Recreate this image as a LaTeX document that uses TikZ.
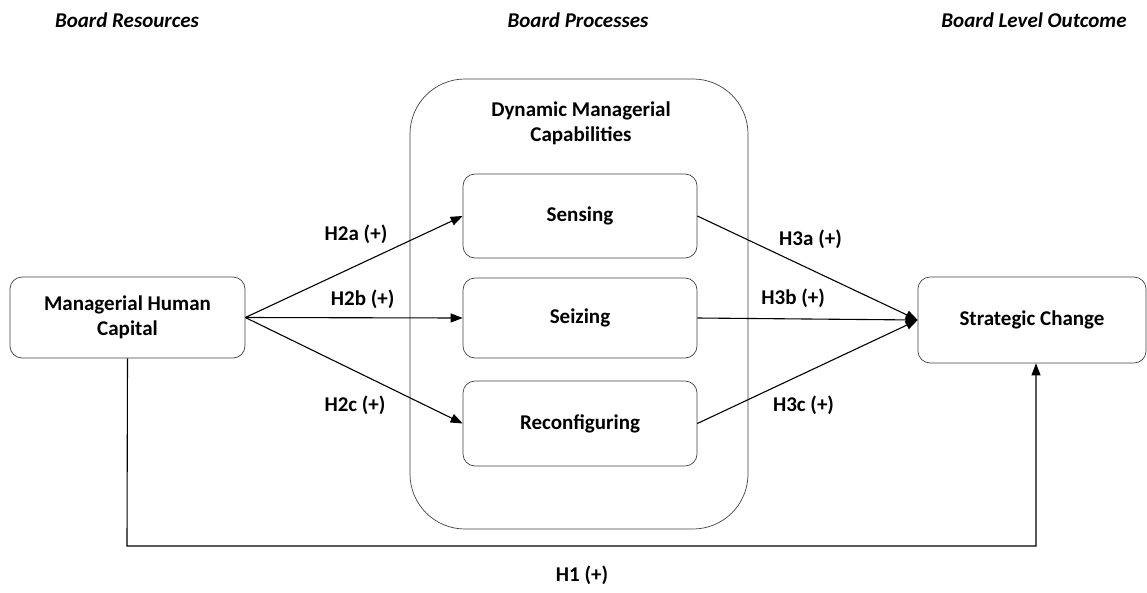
\documentclass[tikz,border=0pt]{standalone}
\usepackage{fontspec}
\setmainfont{Carlito}
\usepackage{tikz}
\usetikzlibrary{positioning, arrows.meta}

\begin{document}
\begin{tikzpicture}[x=1pt, y=-1pt, >={Triangle[length=12pt, width=9pt]},
    every node/.style={font=\fontsize{21}{25}\selectfont\bfseries},
    block/.style={draw=black!75, rounded corners=12pt, line width=0.7pt, minimum width=234pt, minimum height=84pt, align=center},
    outer/.style={draw=black!75, rounded corners=55pt, line width=0.7pt, minimum width=338pt, minimum height=450pt},
    header/.style={font=\fontsize{21}{25}\selectfont\bfseries\itshape},
    hyp/.style={font=\fontsize{21}{25}\selectfont\bfseries},
    link/.style={->, line width=1.1pt}]
        \useasboundingbox (0,0) rectangle (1147,592);

        \node[header] (resources) at (127,20) {Board Resources};
        \node[header] (processes) at (578,20) {Board Processes};
        \node[header] (outcome) at (1034,20) {Board Level Outcome};

        \node[outer] (dmc) at (579,304) {};
        \node[align=center] (dmctitle) at (581,123) {Dynamic Managerial\\Capabilities};
        \node[block] (sensing) at (580,216) {Sensing};
        \node[block, minimum height=80pt] (seizing) at (580,318) {Seizing};
        \node[block, minimum height=85pt] (reconf) at (580,423.5) {Reconfiguring};
        \node[block, minimum width=235pt, minimum height=81pt] (mhc) at (127.5,317.5) {Managerial Human\\Capital};
        \node[block, minimum width=228pt, minimum height=86pt] (change) at (1032,320) {Strategic Change};

        \coordinate (corner1) at (127,546);
        \coordinate (corner2) at (1036,546);

        \path
        (mhc.east) edge[link] node[hyp, pos=0.5, shift={(2,-32)}] {H2a (+)} (sensing.west)
        (mhc.east) edge[link] node[hyp, pos=0.54, shift={(0,-18.5)}] {H2b (+)} (seizing.west)
        (mhc.east) edge[link] node[hyp, pos=0.5, shift={(1,35)}] {H2c (+)} (reconf.west)
        (sensing.east) edge[link] node[hyp, pos=0.5, shift={(3,-29)}] {H3a (+)} (change.west)
        (seizing.east) edge[link] node[hyp, pos=0.43, shift={(1,-21)}] {H3b (+)} (change.west)
        (reconf.east) edge[link] node[hyp, pos=0.5, shift={(-4,33.5)}] {H3c (+)} (change.west)
        ;

        \draw[link] (mhc.south) -- (corner1) -- (corner2) -- (change.south -| corner2);
        \node[hyp] (h1) at (582,575) {H1 (+)};
\end{tikzpicture}
\end{document}
